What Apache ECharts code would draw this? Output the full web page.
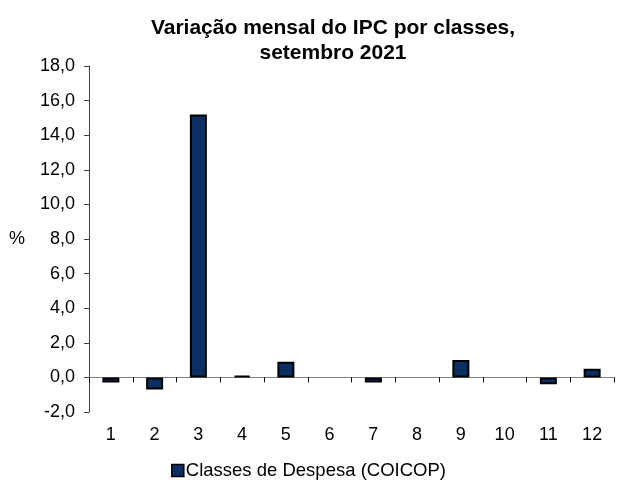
<!DOCTYPE html>
<html>
<head>
<meta charset="utf-8">
<script src="https://cdn.jsdelivr.net/npm/echarts@6/dist/echarts.min.js"></script>
<style>
  html, body { margin: 0; padding: 0; background: #fff; }
  #chart { width: 617px; height: 480px; }
</style>
</head>
<body>
<div id="chart"></div>
<script>
// classes COICOP 1..12
const categories = ['1', '2', '3', '4', '5', '6', '7', '8', '9', '10', '11', '12']
// variação mensal (%)
const values = [-0.3, -0.7, 15.2, 0.1, 0.9, 0.0, -0.3, 0.0, 1.0, 0.0, -0.4, 0.5]
const seriesName = 'Classes de Despesa (COICOP)'

const chart = echarts.init(document.getElementById('chart'))

const option = {
  animation: false,
  textStyle: { fontFamily: 'Liberation Sans, Arial, sans-serif' },
  title: {
    text: 'Variação mensal do IPC por classes,\nsetembro 2021',
    left: 333,
    textAlign: 'center',
    top: 16,
    padding: 0,
    textStyle: {
      fontSize: 21,
      fontWeight: 'bold',
      color: '#000',
      lineHeight: 25
    }
  },
  legend: {
    top: 461,
    left: 'center',
    padding: 0,
    itemWidth: 12,
    itemHeight: 12,
    itemGap: 4,
    textStyle: { fontSize: 18.5, color: '#000', padding: [0, 0, 0, -3] },
    data: [{
      name: seriesName,
      icon: 'rect',
      itemStyle: { color: '#0c2f63', borderColor: '#000', borderWidth: 1.5 }
    }]
  },
  grid: {
    left: 89,
    right: 3,
    top: 66,
    bottom: 68
  },
  xAxis: {
    type: 'category',
    data: categories,
    axisLine: { onZero: true, lineStyle: { color: '#808080', width: 1 } },
    axisTick: { show: true, length: 5, lineStyle: { color: '#000' } },
    axisLabel: { margin: 14, fontSize: 18, color: '#000' }
  },
  yAxis: {
    type: 'value',
    min: -2,
    max: 18,
    interval: 2,
    name: '%',
    nameLocation: 'middle',
    nameRotate: 0,
    nameGap: 64,
    nameTextStyle: { fontSize: 18, color: '#000', padding: [0, 0, 10, 0] },
    axisLine: { show: true, lineStyle: { color: '#404040' } },
    axisTick: { show: true, length: 5, lineStyle: { color: '#404040' } },
    axisLabel: {
      fontSize: 18,
      color: '#000',
      margin: 14,
      formatter: v => v.toFixed(1).replace('.', ',')
    },
    splitLine: { show: false }
  },
  series: [
    {
      name: seriesName,
      type: 'bar',
      barWidth: 17,
      // zero values draw no outline
      data: values.map(v => ({
        value: v,
        itemStyle: { borderWidth: v === 0 ? 0 : 2 }
      })),
      itemStyle: {
        color: '#0c2f63',
        borderColor: '#000',
        borderWidth: 2
      }
    }
  ]
}

chart.setOption(option)
</script>
</body>
</html>
